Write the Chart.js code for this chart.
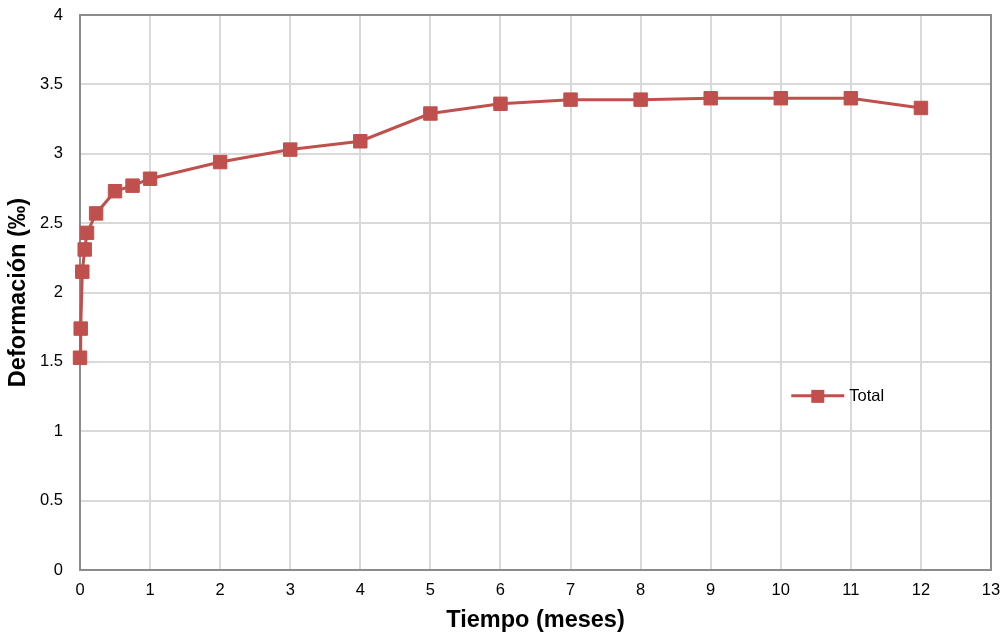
<!DOCTYPE html>
<html>
<head>
<meta charset="utf-8">
<script src="https://cdn.jsdelivr.net/npm/chart.js@4"></script>
<style>
  html, body { margin: 0; padding: 0; background: #fff; }
  #wrap { width: 1005px; height: 636px; }
</style>
</head>
<body>
<div id="wrap"><canvas id="chart" width="1005" height="636"></canvas></div>
<script>
// time in months, deformation in per mille
const months = [0, 0.01, 0.033, 0.067, 0.1, 0.23, 0.5, 0.75, 1, 2, 3, 4, 5, 6, 7, 8, 9, 10, 11, 12];
const total  = [1.53, 1.74, 2.15, 2.31, 2.43, 2.57, 2.73, 2.77, 2.82, 2.94, 3.03, 3.09, 3.29, 3.36, 3.39, 3.39, 3.40, 3.40, 3.40, 3.33];
const xTicks = [0, 1, 2, 3, 4, 5, 6, 7, 8, 9, 10, 11, 12, 13];
const yTicks = [0, 0.5, 1, 1.5, 2, 2.5, 3, 3.5, 4];

const red = '#C0504D';
const font = 'Liberation Sans, Arial, sans-serif';

// legend drawn inside the plot, like the original
const insideLegend = {
  id: 'insideLegend',
  afterDraw(chart) {
    const ctx = chart.ctx;
    const ds = chart.data.datasets[0];
    const x = chart.scales.x.getPixelForValue(10.15);
    const y = chart.scales.y.getPixelForValue(1.255);
    ctx.save();
    ctx.strokeStyle = ds.borderColor;
    ctx.lineWidth = 3;
    ctx.beginPath();
    ctx.moveTo(x, y);
    ctx.lineTo(x + 53, y);
    ctx.stroke();
    ctx.fillStyle = ds.backgroundColor;
    ctx.fillRect(x + 20, y - 6, 13, 13);
    ctx.fillStyle = '#000';
    ctx.font = '16.5px ' + font;
    ctx.textBaseline = 'middle';
    ctx.fillText(ds.label, x + 58, y + 1);
    ctx.restore();
  }
};

new Chart(document.getElementById('chart'), {
  type: 'line',
  data: {
    datasets: [{
      label: 'Total',
      data: months.map((m, i) => ({ x: m, y: total[i] })),
      borderColor: red,
      backgroundColor: red,
      borderWidth: 3,
      pointStyle: 'rect',
      pointRadius: 9.5,
      pointBorderWidth: 1,
      pointBorderColor: red,
      tension: 0,
      clip: false
    }]
  },
  options: {
    responsive: false,
    animation: false,
    layout: { padding: { left: 0, right: 14, top: 15, bottom: 0 } },
    plugins: { legend: { display: false }, tooltip: { enabled: false } },
    scales: {
      x: {
        type: 'linear',
        min: 0, max: 13,
        afterBuildTicks: s => { s.ticks = xTicks.map(v => ({ value: v })); },
        afterFit: s => { s.height = 66; s.paddingLeft = 0; s.paddingRight = 0; },
        grid: { color: '#d9d9d9', lineWidth: 2, drawTicks: false },
        border: { color: '#8c8c8c', width: 2 },
        ticks: { color: '#000', font: { family: font, size: 16.5 }, padding: 11, maxRotation: 0 },
        title: { display: true, text: 'Tiempo (meses)', color: '#000', font: { family: font, size: 23.5, weight: 'bold' }, padding: { top: 0, bottom: 1 } }
      },
      y: {
        min: 0, max: 4,
        afterBuildTicks: s => { s.ticks = yTicks.map(v => ({ value: v })); },
        afterFit: s => { s.width = 80; s.paddingTop = 0; s.paddingBottom = 0; },
        grid: { color: '#d9d9d9', lineWidth: 2, drawTicks: false },
        border: { color: '#8c8c8c', width: 2 },
        ticks: { color: '#000', font: { family: font, size: 16.5 }, padding: 17, callback: v => String(v) },
        title: { display: true, text: 'Deformación (‰)', color: '#000', font: { family: font, size: 23.5, weight: 'bold' }, padding: { bottom: 0 } }
      }
    }
  },
  plugins: [insideLegend, {
    id: 'frame',
    beforeDatasetsDraw(chart) {
      const a = chart.chartArea, ctx = chart.ctx;
      ctx.save();
      ctx.strokeStyle = '#8c8c8c';
      ctx.lineWidth = 2;
      ctx.strokeRect(a.left, a.top, a.right - a.left, a.bottom - a.top);
      ctx.restore();
    }
  }]
});
</script>
</body>
</html>
